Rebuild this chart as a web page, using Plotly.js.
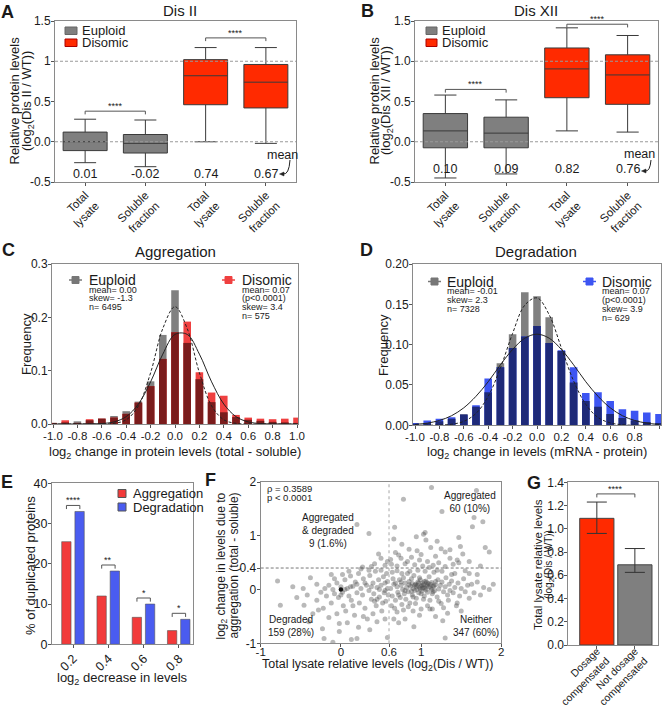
<!DOCTYPE html>
<html><head><meta charset="utf-8">
<script src="https://cdn.plot.ly/plotly-3.0.1.min.js"></script>
<style>html,body{margin:0;padding:0;background:#fff;}#chart{width:665px;height:706px;}</style>
</head><body><div id="chart"></div>
<script>
// ---------------- DATA ----------------
// Panel A / B (box plots, log2 ratio)
const boxTickText = ['Total<br>lysate','Soluble<br>fraction','Total<br>lysate','Soluble<br>fraction'];
const euploidPos = [0, 1];
const disomicPos = [2, 3];
const aEuLow  = [-0.26, -0.31], aEuQ1 = [-0.11, -0.14], aEuMed = [0.00, -0.02], aEuQ3 = [0.12, 0.09], aEuHigh = [0.28, 0.27];
const aDisLow = [0.00, -0.02],  aDisQ1 = [0.46, 0.42],  aDisMed = [0.82, 0.74],  aDisQ3 = [1.02, 0.96], aDisHigh = [1.17, 1.17];
const aMeans  = ['0.01', '-0.02', '0.74', '0.67'];
const bEuLow  = [-0.45, -0.40], bEuQ1 = [-0.075, -0.075], bEuMed = [0.135, 0.107], bEuQ3 = [0.35, 0.305], bEuHigh = [0.58, 0.52];
const bDisLow = [0.135, 0.12],  bDisQ1 = [0.547, 0.465],  bDisMed = [0.905, 0.83],  bDisQ3 = [1.165, 1.08], bDisHigh = [1.415, 1.32];
const bMeans  = ['0.10', '0.09', '0.82', '0.76'];

// Panel C / D (histograms, bin centres)
const binCenters = [-1.0,-0.9,-0.8,-0.7,-0.6,-0.5,-0.4,-0.3,-0.2,-0.1,0.0,0.1,0.2,0.3,0.4,0.5,0.6,0.7,0.8,0.9,1.0];
const cEuploid = [0.002,0.003,0.005,0.007,0.010,0.015,0.024,0.042,0.080,0.167,0.251,0.152,0.084,0.041,0.022,0.013,0.008,0.006,0.004,0.003,0.002];
const cDisomic = [0.002,0.007,0.002,0.009,0.010,0.012,0.019,0.040,0.071,0.122,0.172,0.192,0.097,0.059,0.053,0.017,0.012,0.010,0.009,0.010,0.012];
const cEuploidFit = [0,0,0,0,0.0001,0.0012,0.0079,0.034,0.096,0.179,0.220,0.179,0.096,0.034,0.0079,0.0012,0.0001,0,0,0,0];
const cDisomicFit = [0,0,0,0.0002,0.0009,0.0039,0.0138,0.0374,0.079,0.131,0.168,0.168,0.131,0.079,0.0374,0.0138,0.0039,0.0009,0.0002,0,0];
const dEuploid = [0.002,0.003,0.005,0.008,0.014,0.023,0.041,0.077,0.113,0.165,0.160,0.134,0.092,0.053,0.030,0.023,0.014,0.009,0.006,0.004,0.003];
const dDisomic = [0.003,0.006,0.008,0.010,0.013,0.025,0.058,0.072,0.096,0.110,0.123,0.102,0.093,0.072,0.040,0.041,0.030,0.020,0.018,0.016,0.014];
const dEuploidFit = [0,0.0001,0.0003,0.0013,0.0049,0.0147,0.036,0.071,0.114,0.149,0.158,0.137,0.096,0.055,0.026,0.0097,0.003,0.0007,0.0001,0,0];
const dDisomicFit = [0.0011,0.0027,0.006,0.0119,0.0217,0.036,0.054,0.075,0.094,0.108,0.113,0.108,0.094,0.075,0.054,0.036,0.0217,0.0119,0.006,0.0027,0.0011];
const cEuploidStats = ['mean= 0.00','skew= -1.3','n= 6495'];
const cDisomicStats = ['mean= 0.07','(p<0.0001)','skew= 3.4','n= 575'];
const dEuploidStats = ['mean= -0.01','skew= 2.3','n= 7328'];
const dDisomicStats = ['mean= 0.07','(p<0.0001)','skew= 3.9','n= 629'];

// Panel E
const eTickText = ['0.2','0.4','0.6','0.8'];
const ePos = [0,1,2,3];
const eAggregation = [25.5, 12.0, 6.7, 3.4];
const eDegradation = [33.0, 18.2, 10.0, 6.2];
const eSig = ['****','**','*','*'];

// Panel F scatter points [total lysate log2, change due to aggregation]
const fPoints = [
 [1.13,1.90],[1.69,1.84],[0.78,1.68],[1.26,1.45],[1.66,1.34],[1.77,1.26],[0.20,1.21],[1.64,1.17],[0.67,1.16],[0.35,1.04],
 [1.05,1.06],[1.03,1.03],[0.94,0.98],[1.47,0.97],[0.66,0.94],[1.06,0.92],[1.80,0.78],[1.85,0.70],[1.49,0.80],[0.47,0.66],
 [0.68,0.69],[0.72,0.64],[0.85,0.75],[1.12,0.78],[1.25,0.76],[1.36,0.74],[1.30,0.70],[0.95,0.72],[1.00,0.65],[1.18,0.62],
 [0.88,0.60],[1.45,0.55],[1.52,0.66],[0.62,0.56],[0.42,0.48],[0.58,0.52],[0.75,0.58],[1.08,0.52],[1.22,0.50],[1.40,0.47],
 [1.74,0.44],[0.80,0.48],[0.92,0.46],[1.02,0.44],[1.15,0.45],[1.30,0.43],[0.70,0.44],[1.47,0.50],[0.55,0.45],[0.63,0.47],
 [1.60,0.52],[0.27,0.42],[0.50,0.58],[0.38,0.43],[0.83,0.52],[0.98,0.55],[1.10,0.41],[1.36,0.58],[0.76,0.84],[1.20,0.90],
 [0.62,0.02],[0.64,-0.12],[0.66,0.10],[0.68,-0.20],[0.70,0.05],[0.71,-0.05],[0.73,0.18],[0.74,-0.15],[0.75,0.08],[0.76,-0.28],
 [0.77,0.00],[0.78,0.22],[0.79,-0.08],[0.80,0.12],[0.81,-0.18],[0.82,0.04],[0.83,0.30],[0.84,-0.04],[0.85,0.15],[0.86,-0.25],
 [0.87,0.06],[0.88,0.20],[0.89,-0.10],[0.90,0.02],[0.91,0.26],[0.92,-0.02],[0.93,0.10],[0.94,-0.16],[0.95,0.08],[0.96,0.14],
 [0.97,-0.06],[0.98,0.04],[0.99,0.18],[1.00,0.06],[1.01,-0.03],[1.02,0.12],[1.03,0.09],[1.04,-0.12],[1.05,0.02],[1.06,0.16],
 [1.07,0.07],[1.08,-0.05],[1.09,0.11],[1.10,0.24],[1.11,-0.20],[1.12,0.03],[1.13,0.13],[1.14,-0.08],[1.15,0.06],[1.16,0.32],
 [1.17,-0.02],[1.18,0.09],[1.20,-0.14],[1.21,0.18],[1.22,0.01],[1.24,0.08],[1.25,-0.26],[1.26,0.14],[1.28,-0.04],[1.30,0.05],
 [1.31,0.22],[1.33,-0.10],[1.35,0.10],[1.36,-0.02],[1.38,0.16],[1.40,-0.06],[1.42,0.04],[1.44,-0.30],[1.46,0.12],[1.48,-0.12],
 [1.50,0.02],[1.53,0.20],[1.55,-0.04],[1.58,0.08],[1.60,-0.16],[1.63,0.10],[1.66,-0.06],[1.70,0.14],[1.74,-0.10],[1.78,0.04],
 [1.85,0.00],[0.95,0.00],[0.97,0.12],[1.00,-0.08],[1.02,0.03],[1.04,0.15],[1.06,-0.01],[1.08,0.09],[1.10,0.05],[0.92,0.08],
 [0.88,-0.03],[0.85,0.09],[1.12,0.10],[1.15,-0.04],[1.18,0.15],[0.98,0.22],[1.03,-0.18],[0.90,-0.14],[0.80,-0.02],[0.75,0.14],
 [0.72,-0.10],[0.68,0.12],[0.65,0.20],[0.63,-0.30],[0.67,-0.35],[0.70,-0.42],[0.78,-0.38],[0.84,-0.32],[0.93,-0.26],[1.00,-0.36],
 [1.08,-0.30],[1.14,-0.36],[1.22,-0.22],[1.28,-0.34],[1.34,-0.20],[1.38,0.28],[1.42,0.30],[1.26,0.34],[1.20,0.36],[1.05,0.34],
 [0.96,0.36],[0.86,0.34],[0.76,0.30],[0.70,0.35],[0.64,0.32],[0.91,-0.69],[1.27,-0.58],[1.30,-0.90],[1.33,-0.44],[1.11,-0.36],
 [0.80,-0.55],[0.98,-0.48],[1.50,-0.40],[1.60,0.30],[1.70,0.28],[1.90,0.10],[1.55,0.35],[0.66,-0.55],[0.72,-0.62],[1.18,-0.50],
 [1.45,-0.25],[0.90,-0.40],[1.01,0.08],[1.04,0.04],[0.99,0.01],[1.07,0.13],[0.94,0.05],[1.13,0.00],[0.89,0.11],[1.16,0.07],
 [-0.79,0.16],[-0.47,0.02],[-0.755,-0.29],[-0.46,-0.29],[-0.23,-0.73],[-0.21,-0.91],[-0.10,-0.98],[-0.02,-0.63],[0.13,-0.93],[0.20,-0.91],
 [0.58,-0.89],[-0.30,-0.20],[-0.25,-0.05],[-0.20,0.02],[-0.18,-0.12],[-0.15,0.08],[-0.12,-0.25],[-0.10,0.00],[-0.08,-0.08],[-0.05,0.12],
 [-0.03,-0.15],[0.00,0.05],[0.02,-0.05],[0.03,-0.30],[0.05,0.18],[0.06,-0.40],[0.08,0.02],[0.10,-0.12],[0.12,0.25],[0.13,-0.20],
 [0.15,0.06],[0.17,-0.48],[0.18,0.14],[0.20,-0.06],[0.22,0.30],[0.23,-0.25],[0.25,0.02],[0.27,-0.10],[0.28,0.20],[0.30,-0.35],
 [0.32,0.08],[0.33,-0.55],[0.35,-0.02],[0.36,0.26],[0.38,-0.18],[0.40,0.12],[0.41,-0.08],[0.43,0.34],[0.44,-0.30],[0.45,0.04],
 [0.47,0.18],[0.48,-0.14],[0.50,0.08],[0.51,-0.40],[0.53,0.24],[0.54,-0.06],[0.55,0.12],[0.56,-0.22],[0.57,0.30],[0.58,0.02],
 [0.59,-0.10],[-0.35,-0.45],[-0.40,-0.60],[-0.28,-0.38],[-0.15,-0.52],[-0.05,-0.45],[0.08,-0.62],[0.22,-0.70],[0.36,-0.75],[0.45,-0.60],
 [0.55,-0.55],[-0.02,-0.78],[0.28,-0.50],[0.40,-0.45],[0.15,-0.30],[-0.22,-0.35],[-0.08,0.20],[0.02,0.28],[0.10,0.34],[0.25,0.38],
 [0.35,0.36],[0.50,0.36],[-0.12,0.28],[-0.30,0.10],[-0.38,0.22],[-0.42,-0.10],[-0.55,-0.15],[-0.60,0.05],[0.00,-0.10],[0.05,0.00],
 [0.45,-0.18],[0.52,-0.25],[0.48,0.00],[0.38,0.05],[0.30,0.12],[0.20,0.10],[0.12,0.05],[0.55,-0.02],[0.58,0.15],[0.42,-0.22]
];
const fHighlight = [[0.0, 0.0]];
const fTickValsX = [-1, 0, 0.6, 1, 2];
const fTickValsY = [-1, 0, 0.4, 1, 2];
const fThresholdX = 0.6, fThresholdY = 0.4;

// Panel G
const gTickText = ['Dosage<br>compensated', 'Not dosage<br>compensated'];
const gPos = [0, 1];
const gValues = [1.09, 0.69];
const gErrPlus = [0.14, 0.14];
const gErrMinus = [0.13, 0.065];

// ---------------- LAYOUT HELPERS ----------------
const W = 665, H = 706;
const FX = px => px / W;
const FY = py => 1 - py / H;
const FONT = 'Liberation Sans, Arial, Helvetica, sans-serif';
const TXT = '#1a1a1a';
const shapes = [], annotations = [];

function pxAnn(text, x, y, size, o) {
  annotations.push(Object.assign({text, x: FX(x), y: FY(y), xref: 'paper', yref: 'paper', showarrow: false,
    xanchor: 'center', yanchor: 'middle', font: {family: FONT, size: size, color: TXT}}, o || {}));
}
function dAnn(text, n, x, y, size, o) {
  annotations.push(Object.assign({text, x, y, xref: 'x' + n, yref: 'y' + n, showarrow: false,
    xanchor: 'center', yanchor: 'middle', font: {family: FONT, size: size, color: TXT}}, o || {}));
}
function bracket(n, x0, x1, y, drop, stars) {
  shapes.push({type: 'path', xref: 'x' + n, yref: 'y' + n,
    path: `M ${x0} ${y - drop} L ${x0} ${y} L ${x1} ${y} L ${x1} ${y - drop}`,
    line: {color: '#555', width: 1}});
  dAnn(stars, n, (x0 + x1) / 2, y, 9, {yanchor: 'bottom', yshift: -2});
}
function hline(n, y, color, dash) {
  shapes.push({type: 'line', xref: 'x' + n + ' domain', yref: 'y' + n, x0: 0, x1: 1, y0: y, y1: y,
    line: {color, width: 1, dash}});
}
function vline(n, x, color, dash, w) {
  shapes.push({type: 'line', xref: 'x' + n, yref: 'y' + n + ' domain', x0: x, x1: x, y0: 0, y1: 1,
    line: {color, width: w || 1, dash}});
}
function pxRect(x0, y0, x1, y1, fill, line) {
  shapes.push({type: 'rect', xref: 'paper', yref: 'paper', x0: FX(x0), x1: FX(x1), y0: FY(y1), y1: FY(y0),
    fillcolor: fill, line: {color: line || fill, width: 1}});
}
function pxLine(x0, y0, x1, y1, color, w) {
  shapes.push({type: 'line', xref: 'paper', yref: 'paper', x0: FX(x0), x1: FX(x1), y0: FY(y0), y1: FY(y1),
    line: {color, width: w || 1}});
}
function meanArrow(x0, y0, cx, cy, x1, y1) {
  shapes.push({type: 'path', xref: 'paper', yref: 'paper',
    path: `M ${FX(x0)} ${FY(y0)} Q ${FX(cx)} ${FY(cy)} ${FX(x1 + 2)} ${FY(y1)}`, line: {color: '#222', width: 1}});
  shapes.push({type: 'path', xref: 'paper', yref: 'paper',
    path: `M ${FX(x1 - 1.5)} ${FY(y1)} L ${FX(x1 + 3)} ${FY(y1 - 2)} L ${FX(x1 + 3)} ${FY(y1 + 2)} Z`,
    fillcolor: '#222', line: {color: '#222', width: 0.5}});
}
function axis(dpx, range, anchor, extra, isY) {
  const domain = isY ? [FY(dpx[1]), FY(dpx[0])] : [FX(dpx[0]), FX(dpx[1])];
  return Object.assign({domain, range, anchor, showline: true, mirror: true, linecolor: '#8a8a8a', linewidth: 1,
    ticks: 'outside', ticklen: 3, tickwidth: 1, tickcolor: '#555', showgrid: false, zeroline: false,
    ticklabelstandoff: -2,
    tickfont: {family: FONT, size: 12, color: TXT}, fixedrange: true}, extra || {});
}
const tick1 = v => v.map(x => x.toFixed(1));

// ---------------- TRACES ----------------
const traces = [];
const GREY = '#7f7f7f', RED = '#ff2a00';
function boxTrace(n, pos, low, q1, med, q3, high, fill) {
  traces.push({type: 'box', xaxis: 'x' + n, yaxis: 'y' + n, x: pos, lowerfence: low, q1, median: med, q3, upperfence: high,
    boxpoints: false, width: 0.73, whiskerwidth: 0.5, fillcolor: fill, line: {color: '#3a3a3a', width: 1}, hoverinfo: 'skip'});
}
boxTrace('', euploidPos, aEuLow, aEuQ1, aEuMed, aEuQ3, aEuHigh, GREY);
boxTrace('', disomicPos, aDisLow, aDisQ1, aDisMed, aDisQ3, aDisHigh, RED);
boxTrace('2', euploidPos, bEuLow, bEuQ1, bEuMed, bEuQ3, bEuHigh, GREY);
boxTrace('2', disomicPos, bDisLow, bDisQ1, bDisMed, bDisQ3, bDisHigh, RED);

function histPanel(n, eu, dis, disColor, overlapColor, euFit, disFit) {
  const ov = eu.map((v, i) => Math.min(v, dis[i]));
  traces.push({type: 'bar', xaxis: 'x' + n, yaxis: 'y' + n, x: binCenters, y: eu, width: 0.062, marker: {color: '#808080'}, hoverinfo: 'skip'});
  traces.push({type: 'bar', xaxis: 'x' + n, yaxis: 'y' + n, x: binCenters, y: dis, width: 0.062, marker: {color: disColor}, hoverinfo: 'skip'});
  traces.push({type: 'bar', xaxis: 'x' + n, yaxis: 'y' + n, x: binCenters, y: ov, width: 0.062, marker: {color: overlapColor}, hoverinfo: 'skip'});
  traces.push({type: 'scatter', mode: 'lines', xaxis: 'x' + n, yaxis: 'y' + n, x: binCenters, y: euFit,
    line: {color: '#222', width: 1, dash: '3px,2px', shape: 'spline'}, hoverinfo: 'skip'});
  traces.push({type: 'scatter', mode: 'lines', xaxis: 'x' + n, yaxis: 'y' + n, x: binCenters, y: disFit,
    line: {color: '#222', width: 1, shape: 'spline'}, hoverinfo: 'skip'});
}
histPanel('3', cEuploid, cDisomic, '#ef4040', '#7a1c1c', cEuploidFit, cDisomicFit);
histPanel('4', dEuploid, dDisomic, '#3d55f2', '#1e2a78', dEuploidFit, dDisomicFit);

traces.push({type: 'bar', xaxis: 'x5', yaxis: 'y5', x: ePos, y: eAggregation, width: 0.265, offset: -0.325,
  marker: {color: '#f23a3a', line: {color: '#555', width: 0.6}}, hoverinfo: 'skip'});
traces.push({type: 'bar', xaxis: 'x5', yaxis: 'y5', x: ePos, y: eDegradation, width: 0.265, offset: 0.05,
  marker: {color: '#4a5cf0', line: {color: '#555', width: 0.6}}, hoverinfo: 'skip'});

traces.push({type: 'scatter', mode: 'markers', xaxis: 'x6', yaxis: 'y6', x: fPoints.map(p => p[0]), y: fPoints.map(p => p[1]),
  marker: {size: 5, color: 'rgba(70,70,70,0.38)', line: {width: 0}}, hoverinfo: 'skip', cliponaxis: true});
traces.push({type: 'scatter', mode: 'markers', xaxis: 'x6', yaxis: 'y6', x: fHighlight.map(p => p[0]), y: fHighlight.map(p => p[1]),
  marker: {size: 4.5, color: '#111'}, hoverinfo: 'skip'});

traces.push({type: 'bar', xaxis: 'x7', yaxis: 'y7', x: gPos, y: gValues, width: 0.9,
  marker: {color: [RED, '#7f7f7f'], line: {color: '#444', width: 1}},
  error_y: {type: 'data', symmetric: false, array: gErrPlus, arrayminus: gErrMinus, color: '#333', thickness: 1, width: 10},
  hoverinfo: 'skip'});

// ---------------- DECORATIONS ----------------
// Panel A
hline('', 0, '#9a9a9a', '3px,2px'); hline('', 1, '#9a9a9a', '3px,2px');
bracket('', euploidPos[0], euploidPos[1], Math.max(...aEuHigh) + 0.10, 0.04, '****');
bracket('', disomicPos[0], disomicPos[1], Math.max(...aDisHigh) + 0.12, 0.04, '****');
[...euploidPos, ...disomicPos].forEach((p, i) => dAnn(aMeans[i], '', p, -0.40, 12.5));
dAnn('mean', '', 3.28, -0.165, 12.5);
meanArrow(290, 160, 289, 175, 281, 174);
pxRect(65, 27, 77, 34.5, GREY, '#666'); pxAnn('Euploid', 80, 30.5, 13, {xanchor: 'left'});
pxRect(65, 39, 77, 46.5, RED, '#a00'); pxAnn('Disomic', 80, 42.5, 13, {xanchor: 'left'});
pxAnn('Dis II', 180, 10, 15);
pxAnn('<b>A</b>', 7, 12, 18);
pxAnn('Relative protein levels', 13.5, 101, 13, {textangle: -90});
pxAnn('(log<sub>2</sub>(Dis II / WT))', 27, 101, 13, {textangle: -90});
// Panel B
hline('2', 0, '#9a9a9a', '3px,2px'); hline('2', 1, '#9a9a9a', '3px,2px');
bracket('2', euploidPos[0], euploidPos[1], Math.max(...bEuHigh) + 0.07, 0.04, '****');
bracket('2', disomicPos[0], disomicPos[1], Math.max(...bDisHigh) + 0.045, 0.04, '****');
[...euploidPos, ...disomicPos].forEach((p, i) => dAnn(bMeans[i], '2', p, -0.34, 12.5));
dAnn('mean', '2', 3.2, -0.148, 12.5);
meanArrow(651, 160, 650, 172, 643, 171);
pxRect(426, 27, 437, 34.5, GREY, '#666'); pxAnn('Euploid', 440, 30.5, 13, {xanchor: 'left'});
pxRect(426, 39, 437, 46.5, RED, '#a00'); pxAnn('Disomic', 440, 42.5, 13, {xanchor: 'left'});
pxAnn('Dis XII', 536, 10, 15);
pxAnn('<b>B</b>', 367, 11, 18);
pxAnn('Relative protein levels', 373.5, 101, 13, {textangle: -90});
pxAnn('(log<sub>2</sub>(Dis XII / WT))', 386, 101, 13, {textangle: -90});
// Panel C
pxAnn('Aggregation', 176, 252, 15);
pxAnn('<b>C</b>', 8, 250, 18);
pxAnn('Frequency', 27, 344, 13, {textangle: -90});
pxAnn('log<sub>2</sub> change in protein levels (total - soluble)', 175, 452, 13);
pxLine(69, 280, 82, 280, '#777', 1.5); pxRect(72, 276.5, 79, 283.5, '#777');
pxAnn('Euploid', 87, 280, 14, {xanchor: 'left'});
cEuploidStats.forEach((s, i) => pxAnn(s, 87, 289.5 + i * 8.8, 9, {xanchor: 'left'}));
pxLine(222, 280, 235, 280, '#ef4040', 1.5); pxRect(225, 276.5, 232, 283.5, '#ef4040');
pxAnn('Disomic', 240, 280, 14, {xanchor: 'left'});
cDisomicStats.forEach((s, i) => pxAnn(s, 240, 289.5 + i * 8.8, 9, {xanchor: 'left'}));
// Panel D
pxAnn('Degradation', 536, 252, 15);
pxAnn('<b>D</b>', 366, 250, 18);
pxAnn('Frequency', 383, 345, 13, {textangle: -90});
pxAnn('log<sub>2</sub> change in levels (mRNA - protein)', 537, 452, 13);
pxLine(428, 281.5, 441, 281.5, '#777', 1.5); pxRect(431, 278, 438, 285, '#777');
pxAnn('Euploid', 445, 281.5, 14, {xanchor: 'left'});
dEuploidStats.forEach((s, i) => pxAnn(s, 445, 291.5 + i * 8.8, 9, {xanchor: 'left'}));
pxLine(583, 281.5, 596, 281.5, '#3d55f2', 1.5); pxRect(586, 278, 593, 285, '#3d55f2');
pxAnn('Disomic', 600, 281.5, 14, {xanchor: 'left'});
dDisomicStats.forEach((s, i) => pxAnn(s, 600, 291.5 + i * 8.8, 9, {xanchor: 'left'}));
// Panel E
ePos.forEach((p, i) => bracket('5', p - 0.19, p + 0.19, Math.max(eAggregation[i], eDegradation[i]) + 1.5, 0.9, eSig[i]));
pxRect(118, 489.5, 126, 497.5, '#f23a3a', '#555'); pxAnn('Aggregation', 131, 493.5, 13, {xanchor: 'left'});
pxRect(118, 503, 126, 511, '#4a5cf0', '#555'); pxAnn('Degradation', 131, 507, 13, {xanchor: 'left'});
pxAnn('<b>E</b>', 7, 482, 18);
pxAnn('% of duplicated proteins', 30, 566, 13, {textangle: -90});
pxAnn('log<sub>2</sub> decrease in levels', 122, 678, 13);
// Panel F
vline('6', fThresholdX, '#c4c4c4', 'dot', 1.5);
hline('6', fThresholdY, '#777', '3px,2px');
pxAnn('ρ = 0.3589', 265, 488.5, 9.5, {xanchor: 'left'});
pxAnn('p < 0.0001', 265, 497, 9.5, {xanchor: 'left'});
pxAnn('Aggregated<br>& degraded<br>9 (1.6%)', 328, 530, 10);
pxAnn('Aggregated<br>60 (10%)', 470, 502, 10);
pxAnn('Degraded<br>159 (28%)', 291, 626, 10);
pxAnn('Neither<br>347 (60%)', 476, 626, 10);
pxAnn('<b>F</b>', 210, 480, 18);
pxAnn('log<sub>2</sub> change in levels due to', 221.5, 566, 12, {textangle: -90});
pxAnn('aggregation (total - soluble)', 233.5, 566, 12, {textangle: -90});
pxAnn('Total lysate relative levels (log<sub>2</sub>(Dis / WT))', 377, 664.5, 12.5);
// Panel G
bracket('7', gPos[0], gPos[1], Math.max(gValues[0] + gErrPlus[0], gValues[1] + gErrPlus[1]) + 0.07, 0.03, '****');
pxAnn('<b>G</b>', 534, 483, 18);
pxAnn('Total lysate relative levels', 538, 565, 11.5, {textangle: -90});
pxAnn('(log<sub>2</sub>(Dis / WT))', 549, 565, 10, {textangle: -90});

// ---------------- LAYOUT ----------------
const boxX = {tickvals: [0,1,2,3], ticktext: boxTickText, tickangle: -45, tickfont: {family: FONT, size: 11.5, color: TXT}};
const evenBins = binCenters.filter((v, i) => i % 2 === 0);
const layout = {
  width: W, height: H, margin: {l: 0, r: 0, t: 0, b: 0, pad: 0},
  paper_bgcolor: '#fff', plot_bgcolor: '#fff', showlegend: false, barmode: 'overlay', boxmode: 'overlay',
  font: {family: FONT, color: TXT},
  xaxis:  axis([55, 296], [-0.5, 3.5], 'y', boxX),
  yaxis:  axis([21, 182], [-0.5, 1.5], 'x', {tickvals: [-0.5,0,0.5,1,1.5], ticktext: ['-0.5','0.0','0.5','1','1.5']}, true),
  xaxis2: axis([415, 658], [-0.5, 3.5], 'y2', boxX),
  yaxis2: axis([21, 182], [-0.5, 1.5], 'x2', {tickvals: [-0.5,0,0.5,1,1.5], ticktext: ['-0.5','0.0','0.5','1.0','1.5']}, true),
  xaxis3: axis([52, 298], [-1.0082, 1.0082], 'y3', {tickvals: evenBins, ticktext: tick1(evenBins), tickfont: {family: FONT, size: 11.5, color: TXT}}),
  yaxis3: axis([264, 424], [0, 0.3], 'x3', {tickvals: [0,0.1,0.2,0.3], ticktext: ['0.0','0.1','0.2','0.3']}, true),
  xaxis4: axis([413, 661], [-1.0164, 1.0164], 'y4', {tickvals: evenBins, ticktext: tick1(evenBins), tickfont: {family: FONT, size: 11.5, color: TXT}}),
  yaxis4: axis([264, 425.3], [0, 0.2], 'x4', {tickvals: [0,0.05,0.1,0.15,0.2], ticktext: ['0.00','0.05','0.10','0.15','0.20']}, true),
  xaxis5: axis([52, 193], [-0.6, 3.4], 'y5', {tickvals: ePos, ticktext: eTickText, tickangle: -45, tickfont: {family: FONT, size: 12.5, color: TXT}}),
  yaxis5: axis([483.3, 644.3], [0, 40], 'x5', {tickvals: [0,10,20,30,40], tickfont: {family: FONT, size: 12.5, color: TXT}}, true),
  xaxis6: axis([260.7, 501.3], [-1, 2], 'y6', {tickvals: fTickValsX, ticktext: fTickValsX.map(String), ticklabelstandoff: -5, tickfont: {family: FONT, size: 11.5, color: TXT}}),
  yaxis6: axis([482, 643.3], [-1, 2], 'x6', {tickvals: fTickValsY, ticktext: fTickValsY.map(String)}, true),
  xaxis7: axis([568.3, 657.7], [-0.75, 1.6], 'y7', {tickvals: gPos, ticktext: gTickText, tickangle: -45, ticklabelstandoff: -8, tickfont: {family: FONT, size: 10.5, color: TXT}}),
  yaxis7: axis([482.3, 645], [0, 1.4], 'x7', {tickvals: [0,0.2,0.4,0.6,0.8,1.0,1.2,1.4], ticktext: ['0.0','0.2','0.4','0.6','0.8','1.0','1.2','1.4']}, true),
  shapes, annotations
};
Plotly.newPlot('chart', traces, layout, {staticPlot: true, displayModeBar: false});
</script></body></html>
